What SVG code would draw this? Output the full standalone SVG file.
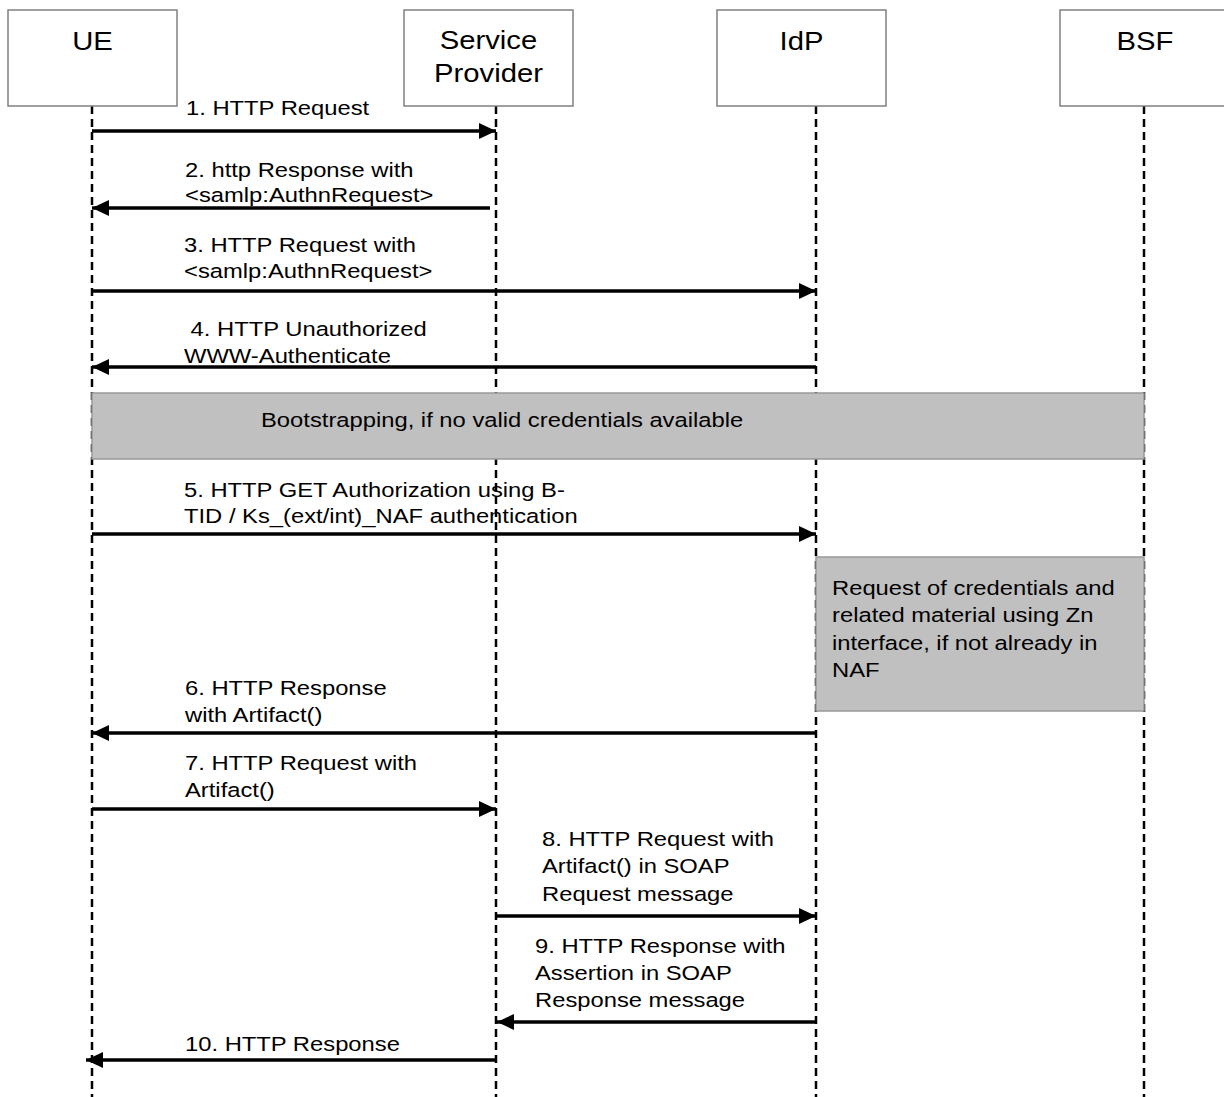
<svg xmlns="http://www.w3.org/2000/svg" width="1224" height="1097" viewBox="0 0 1224 1097">
<style>
.box{fill:#fff;stroke:#808080;stroke-width:1.5}
.life{stroke:#000;stroke-width:2.5;stroke-dasharray:8,5;fill:none}
.msg{stroke:#000;stroke-width:3.5;fill:none;marker-end:url(#ah)}
.note{fill:#c0c0c0;stroke:#999;stroke-width:1.5}
.t{font-family:"Liberation Sans",Arial,Helvetica,sans-serif;font-size:20.5px;fill:#000}
.h{font-family:"Liberation Sans",Arial,Helvetica,sans-serif;font-size:25px;fill:#000;text-anchor:middle}
</style>
<defs>
<marker id="ah" markerUnits="userSpaceOnUse" markerWidth="18" markerHeight="18" refX="17" refY="8" orient="auto">
<path d="M0,0 L17,8 L0,16 z" fill="#000"/>
</marker>
</defs>
<rect width="1224" height="1097" fill="#fff"/>
<g id="lifelines">
<line class="life" x1="92" y1="106" x2="92" y2="1097"/>
<line class="life" x1="496" y1="106" x2="496" y2="1097"/>
<line class="life" x1="816" y1="106" x2="816" y2="1097"/>
<line class="life" x1="1144" y1="106" x2="1144" y2="1097"/>
</g>
<g id="UE"><rect class="box" x="8" y="10" width="169" height="96"/><text class="h" transform="translate(92.5,50) scale(1.17,1)">UE</text></g>
<g id="SP"><rect class="box" x="404" y="10" width="169" height="96"/><text class="h" transform="translate(488.5,49) scale(1.17,1)"><tspan x="0">Service</tspan><tspan x="0" dy="33">Provider</tspan></text></g>
<g id="IdP"><rect class="box" x="717" y="10" width="169" height="96"/><text class="h" transform="translate(801.5,50) scale(1.17,1)">IdP</text></g>
<g id="BSF"><rect class="box" x="1060" y="10" width="169" height="96"/><text class="h" transform="translate(1145,50) scale(1.17,1)">BSF</text></g>
<g id="bootstrap"><rect class="note" x="92" y="393" width="1052" height="66"/><text class="t" transform="translate(261,427) scale(1.16,1)">Bootstrapping, if no valid credentials available</text></g>
<g id="zn"><rect class="note" x="816" y="557" width="328" height="154"/><text class="t" transform="translate(832,595) scale(1.16,1)"><tspan x="0">Request of credentials and</tspan><tspan x="0" dy="27.5">related material using Zn</tspan><tspan x="0" dy="27.5">interface, if not already in</tspan><tspan x="0" dy="27.5">NAF</tspan></text></g>
<g id="connectors">
<line class="msg" x1="92" y1="131" x2="496" y2="131"/>
<line class="msg" x1="490" y1="208" x2="92" y2="208"/>
<line class="msg" x1="92" y1="291" x2="816" y2="291"/>
<line class="msg" x1="816" y1="367" x2="92" y2="367"/>
<line class="msg" x1="92" y1="534" x2="816" y2="534"/>
<line class="msg" x1="816" y1="733" x2="92" y2="733"/>
<line class="msg" x1="92" y1="809" x2="496" y2="809"/>
<line class="msg" x1="496" y1="916" x2="816" y2="916"/>
<line class="msg" x1="816" y1="1022" x2="497" y2="1022"/>
<line class="msg" x1="496" y1="1060" x2="86" y2="1060"/>
</g>
<g id="labels">
<text class="t" transform="translate(186,115) scale(1.16,1)">1. HTTP Request</text>
<text class="t" transform="translate(185,177) scale(1.16,1)"><tspan x="0">2. http Response with</tspan><tspan x="0" dy="25">&lt;samlp:AuthnRequest&gt;</tspan></text>
<text class="t" transform="translate(184,252) scale(1.16,1)"><tspan x="0">3. HTTP Request with</tspan><tspan x="0" dy="26">&lt;samlp:AuthnRequest&gt;</tspan></text>
<text class="t" transform="translate(184,336) scale(1.16,1)"><tspan x="0" xml:space="preserve"> 4. HTTP Unauthorized</tspan><tspan x="0" dy="27">WWW-Authenticate</tspan></text>
<text class="t" transform="translate(184,497) scale(1.16,1)"><tspan x="0">5. HTTP GET Authorization using B-</tspan><tspan x="0" dy="26">TID / Ks_(ext/int)_NAF authentication</tspan></text>
<text class="t" transform="translate(185,695) scale(1.16,1)"><tspan x="0">6. HTTP Response</tspan><tspan x="0" dy="27">with Artifact()</tspan></text>
<text class="t" transform="translate(185,770) scale(1.16,1)"><tspan x="0">7. HTTP Request with</tspan><tspan x="0" dy="27">Artifact()</tspan></text>
<text class="t" transform="translate(542,846) scale(1.16,1)"><tspan x="0">8. HTTP Request with</tspan><tspan x="0" dy="27.5">Artifact() in SOAP</tspan><tspan x="0" dy="27.5">Request message</tspan></text>
<text class="t" transform="translate(535,953) scale(1.16,1)"><tspan x="0">9. HTTP Response with</tspan><tspan x="0" dy="27">Assertion in SOAP</tspan><tspan x="0" dy="27">Response message</tspan></text>
<text class="t" transform="translate(185,1051) scale(1.16,1)">10. HTTP Response</text>
</g>
</svg>
